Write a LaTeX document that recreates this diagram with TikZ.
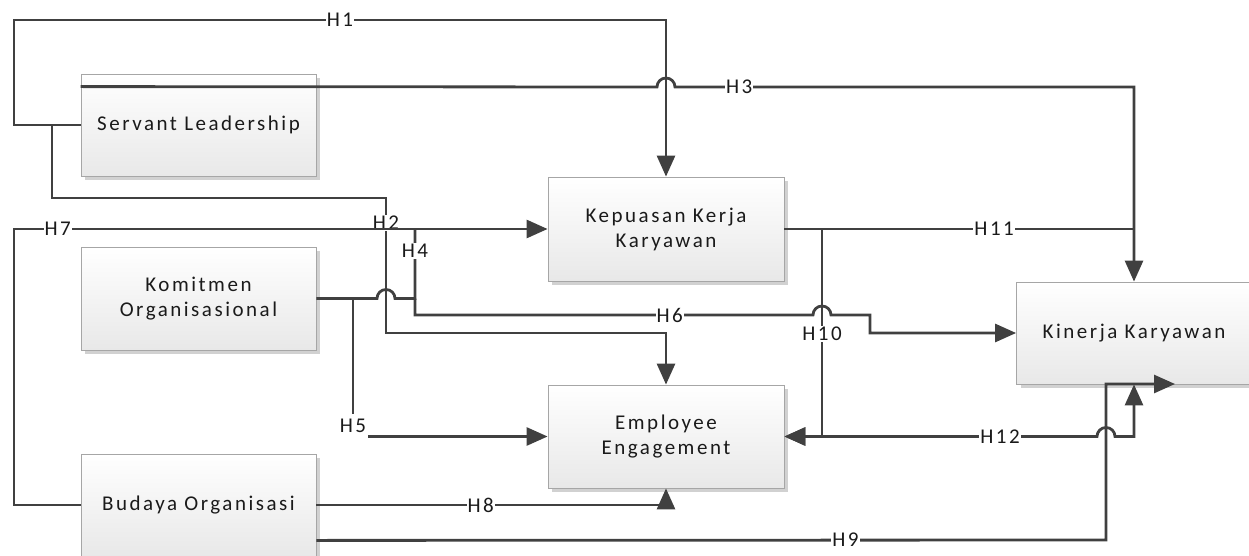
\documentclass[tikz,border=0pt]{standalone}
\usepackage{fontspec}
\setmainfont{Carlito}[LetterSpace=12]
\usetikzlibrary{arrows.meta,shadows,calc}
\definecolor{ln}{HTML}{404040}
\definecolor{bd}{HTML}{A6A6A6}
\definecolor{tx}{HTML}{1A1A1A}
\tikzset{
 box/.style={draw=bd, line width=0.8pt, top color=white, bottom color=black!9,
   minimum width=235pt, minimum height=102pt, align=center, text=tx,
   font=\fontsize{21}{25}\selectfont,
   drop shadow={shadow xshift=4pt, shadow yshift=-4pt, opacity=0.18, fill=black},
   inner sep=0pt},
 conn/.style={draw=ln, line width=2.8pt},
 tip/.tip={Triangle[length=21pt,width=18pt]},
 arr/.style={conn, -tip},
 lbl/.style={fill=white, inner sep=1pt, font=\fontsize{21}{24}\selectfont, text=tx}
}
\begin{document}
\begin{tikzpicture}[x=1pt,y=-1pt]
\useasboundingbox (0,0) rectangle (1249,556);
\node[box] (sl) at (198.5,125) {Servant Leadership};
\node[box, minimum height=103pt] (ko) at (198.5,298.5) {Komitmen\\Organisasional};
\node[box] (bo) at (198.5,505) {Budaya Organisasi};
\node[box, minimum width=236pt, minimum height=104pt] (kp) at (666,229) {Kepuasan Kerja\\Karyawan};
\node[box, minimum width=236pt, minimum height=103pt] (ee) at (666,436.5) {Employee\\Engagement};
\node[box, minimum height=102pt] (ki) at (1134,333) {Kinerja Karyawan};
\coordinate (h9end) at (1175,384);

% H1
\draw[arr] (sl.west) -- (14,125) -- (14,20) -- node[lbl]{H1} (666,20) -- (kp.north);
% H2
\draw[arr] (52,125) -- (52,198) -- (386,198) -- (386,333) -- (666,333) -- (ee.north);
\node[lbl] (h2) at (386,223) {H2};
% H7
\draw[arr] (bo.west) -- (14,505) -- (14,229) -- node[lbl,pos=0.082]{H7} (kp.west);
% H3
\draw[arr] ($(sl.north west)+(0,13)$) -- (657,87) arc[start angle=180,end angle=360,radius=9]
  -- node[lbl,pos=0.14]{H3} (1134,87) -- (ki.north);
% H11
\draw[conn] (kp.east) -- node[lbl,pos=0.6]{H11} (1134,229);
% H4
\draw[conn] (ko.east) -- (377,298.5) arc[start angle=180,end angle=360,radius=9]
  -- (415,298.5) -- node[lbl,pos=0.68]{H4} (415,229);
% H6
\draw[arr] (415,298.5) -- (415,315) -- node[lbl,pos=0.64]{H6} (813,315) arc[start angle=180,end angle=360,radius=9]
  -- (870,315) -- (870,333) -- (ki.west);
% H5
\draw[arr] (353,298.5) -- (353,436.5) -- (ee.west);
\node[lbl, minimum width=30pt, minimum height=25pt] (h5) at (353,426) {H5};
% H10
\draw[arr] (822,229) -- node[lbl,pos=0.506]{H10} (822,436.5) -- (ee.east);
% H12
\draw[conn, tip-tip] (ee.east) -- node[lbl,pos=0.69]{H12} (1097,436.5)
  arc[start angle=180,end angle=360,radius=9] -- (1134,436.5) -- (ki.south);
% H8
\draw[arr] (bo.east) -- node[lbl,pos=0.47]{H8} (666,505) -- (ee.south);
% H9
\draw[arr] ($(bo.south east)+(0,-16)$) -- node[lbl,pos=0.67]{H9} (1106,540) -- (1106,384) -- (h9end);
\end{tikzpicture}
\end{document}
